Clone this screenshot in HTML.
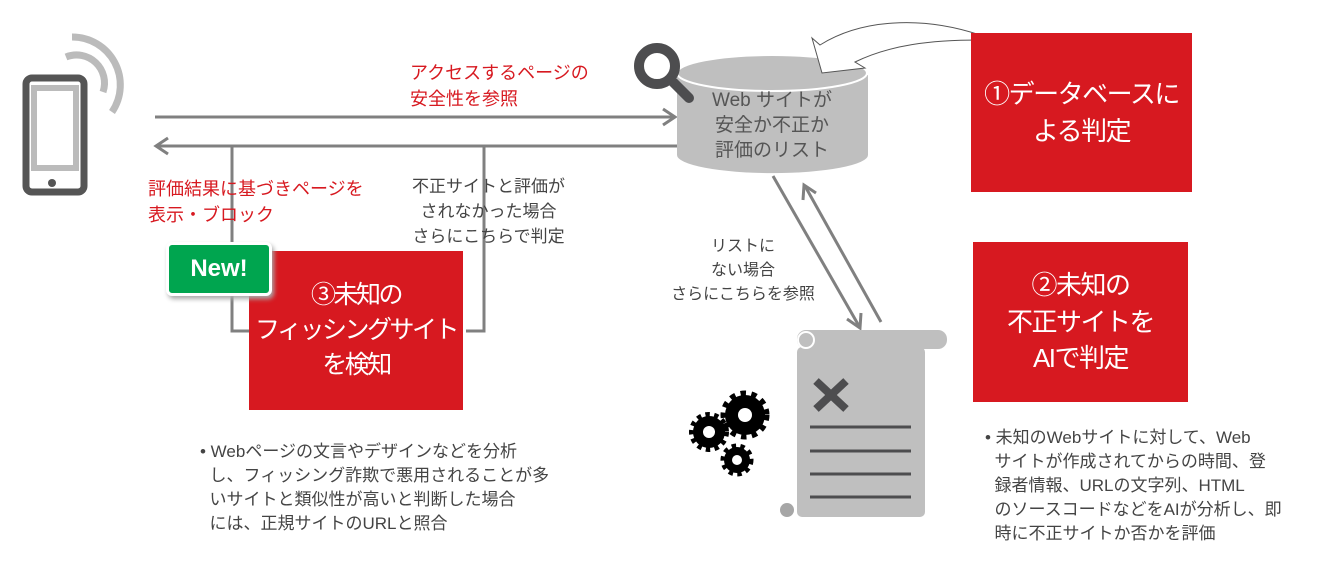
<!DOCTYPE html>
<html><head><meta charset="utf-8"><style>
body{margin:0;width:1317px;height:565px;background:#fff;position:relative;overflow:hidden;font-family:"Liberation Sans","Noto Sans CJK JP",sans-serif;}
.t{position:absolute;white-space:nowrap;}
.box{position:absolute;background:#d71920;color:#fff;font-size:26px;letter-spacing:-1.5px;text-align:center;display:flex;align-items:center;justify-content:center;line-height:1.4;white-space:nowrap;}
</style></head><body>
<svg width="1317" height="565" style="position:absolute;left:0;top:0">
<rect x="26" y="78" width="58" height="114" rx="6" fill="none" stroke="#555" stroke-width="7"/>
<rect x="34" y="88" width="42" height="80" fill="none" stroke="#bbb" stroke-width="6"/>
<circle cx="52" cy="183" r="4" fill="#555"/>
<path d="M66 57 A28 28 0 0 1 103 92" fill="none" stroke="#bbb" stroke-width="7"/>
<path d="M72 37 A48 48 0 0 1 112 112" fill="none" stroke="#bbb" stroke-width="7"/>
<g stroke="#808080" stroke-width="3" fill="none">
<line x1="155" y1="117" x2="675" y2="117"/><path d="M663 109 L675 117 L663 125"/>
<line x1="157" y1="146" x2="678" y2="146"/><path d="M168 138 L156 146 L168 154"/>
<path d="M232 146 V331 H249"/><path d="M484 146 V331 H466"/>
<line x1="773" y1="176" x2="859" y2="326"/><path d="M847 319 L860 328 L861 313"/>
<line x1="881" y1="322" x2="805" y2="186"/><path d="M803 200 L804 185 L816 193"/>
</g>
<path d="M677 75 V155 A95 18 0 0 0 868 155 V75 Z" fill="#bfbfbf"/>
<ellipse cx="772" cy="73" rx="95" ry="18" fill="#bfbfbf" stroke="#fff" stroke-width="2"/>
<circle cx="657" cy="66" r="18" fill="none" stroke="#4d4d4f" stroke-width="10"/>
<line x1="672" y1="81" x2="689" y2="98" stroke="#4d4d4f" stroke-width="10" stroke-linecap="round"/>
<path d="M980 35 C920 15 860 20 820 45 L812 38 L822 73 L865 68 L855 62 C890 45 930 40 980 40 Z" fill="#fff" stroke="#555" stroke-width="1"/>
<rect x="797" y="330" width="150" height="19" rx="9" fill="#bfbfbf"/>
<rect x="797" y="347" width="128" height="170" rx="5" fill="#bfbfbf"/>
<circle cx="806" cy="340" r="8" fill="#bfbfbf" stroke="#fff" stroke-width="2"/>
<circle cx="787" cy="510" r="8" fill="#a6a6a6" stroke="#fff" stroke-width="2"/>
<g stroke="#4d4d4f" stroke-width="8"><line x1="816" y1="381" x2="846" y2="409"/><line x1="846" y1="381" x2="816" y2="409"/></g>
<g stroke="#4d4d4f" stroke-width="3"><line x1="810" y1="427" x2="911" y2="427"/><line x1="810" y1="451" x2="911" y2="451"/><line x1="810" y1="474" x2="911" y2="474"/><line x1="810" y1="497" x2="911" y2="497"/></g>
<g fill="#000">
<circle cx="745" cy="415" r="20" stroke="#000" stroke-width="9" stroke-dasharray="5 5"/><circle cx="745" cy="415" r="18"/>
<circle cx="709" cy="432" r="16" stroke="#000" stroke-width="8" stroke-dasharray="4 4"/><circle cx="709" cy="432" r="15"/>
<circle cx="737" cy="460" r="13" stroke="#000" stroke-width="7" stroke-dasharray="4 4"/><circle cx="737" cy="460" r="12"/>
</g>
<g fill="#fff"><circle cx="745" cy="415" r="7"/><circle cx="709" cy="432" r="6"/><circle cx="737" cy="460" r="5"/></g>
</svg>
<div class="t" style="left:410px;top:60px;color:#d71920;font-size:18px;line-height:26px">アクセスするページの<br>安全性を参照</div>
<div class="t" style="left:148px;top:176px;color:#d71920;font-size:18px;line-height:26px">評価結果に基づきページを<br>表示・ブロック</div>
<div class="t" style="left:412px;top:174px;color:#444;font-size:17px;line-height:25px;text-align:center">不正サイトと評価が<br>されなかった場合<br>さらにこちらで判定</div>
<div class="t" style="left:677px;top:88px;width:190px;color:#555;font-size:19px;line-height:25px;text-align:center">Web サイトが<br>安全か不正か<br>評価のリスト</div>
<div class="t" style="left:668px;top:235px;width:150px;color:#444;font-size:16px;line-height:24px;text-align:center">リストに<br>ない場合<br>さらにこちらを参照</div>
<div class="box" style="left:971px;top:33px;width:221px;height:159px">①データベースに<br>よる判定</div>
<div class="box" style="left:973px;top:242px;width:215px;height:160px">②未知の<br>不正サイトを<br>AIで判定</div>
<div class="box" style="left:249px;top:251px;width:214px;height:159px;font-size:25px;letter-spacing:-2.5px">③未知の<br>フィッシングサイト<br>を検知</div>
<div class="t" style="left:166px;top:242px;width:100px;height:48px;background:#00a54f;border:3px solid #fff;border-radius:6px;box-shadow:2px 3px 5px #aaa;color:#fff;font-weight:bold;font-size:24px;line-height:48px;text-align:center">New!</div>
<div class="t" style="left:200px;top:440px;color:#444;font-size:17px;line-height:24px">• Webページの文言やデザインなどを分析<br>&nbsp;&nbsp;し、フィッシング詐欺で悪用されることが多<br>&nbsp;&nbsp;いサイトと類似性が高いと判断した場合<br>&nbsp;&nbsp;には、正規サイトのURLと照合</div>
<div class="t" style="left:985px;top:426px;color:#444;font-size:17px;line-height:24px">• 未知のWebサイトに対して、Web<br>&nbsp;&nbsp;サイトが作成されてからの時間、登<br>&nbsp;&nbsp;録者情報、URLの文字列、HTML<br>&nbsp;&nbsp;のソースコードなどをAIが分析し、即<br>&nbsp;&nbsp;時に不正サイトか否かを評価</div>
</body></html>
